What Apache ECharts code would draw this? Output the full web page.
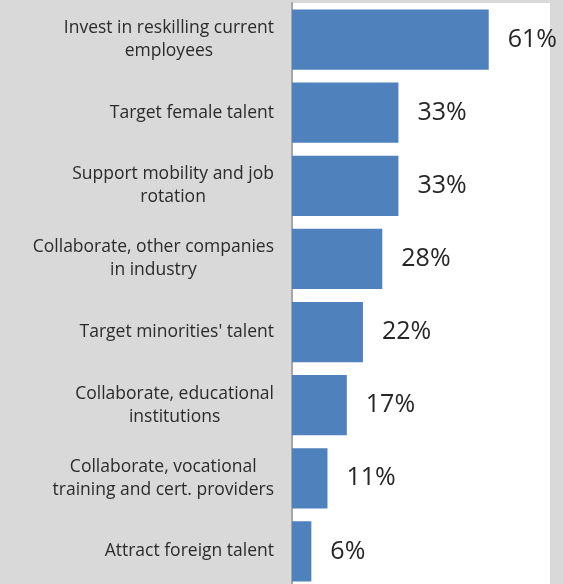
<!DOCTYPE html>
<html><head><meta charset="utf-8">
<script src="https://cdn.jsdelivr.net/npm/echarts@6/dist/echarts.min.js"></script>
<style>html,body{margin:0;padding:0;background:#d9d9d9;overflow:hidden}#c{width:563px;height:592px}</style>
</head><body><div id="c"></div>
<script>
const categories = [
  "Invest in reskilling current\nemployees",
  "Target female talent",
  "Support mobility and job\nrotation",
  "Collaborate, other companies\nin industry",
  "Target minorities' talent",
  "Collaborate, educational\ninstitutions",
  "Collaborate, vocational\ntraining and cert. providers",
  "Attract foreign talent"
];
const values = [61, 33, 33, 28, 22, 17, 11, 6];

const chart = echarts.init(document.getElementById('c'));
chart.setOption({
  backgroundColor: '#d9d9d9',
  animation: false,
  grid: {left: 292, right: 13, top: 3, bottom: 4, show: true, backgroundColor: '#ffffff', borderWidth: 0, containLabel: false},
  xAxis: {type: 'value', min: 0, max: 80, show: false},
  yAxis: {
    type: 'category', data: categories, inverse: true,
    axisTick: {show: false},
    axisLine: {show: true, lineStyle: {color: '#a6a6a6', width: 2}},
    axisLabel: {
      margin: 18, align: 'right',
      formatter: v => v.split('\n').map(s => '{c|' + s + '}').join('\n'),
      rich: {c: {align: 'center', fontFamily: 'Open Sans', fontSize: 17.5, color: '#2b2b2b', lineHeight: 23}}
    }
  },
  series: [{
    type: 'bar', data: values, barCategoryGap: '17.5%',
    itemStyle: {color: '#4f81bd'},
    label: {show: true, position: 'right', distance: 19, formatter: '{c}%', fontFamily: 'Open Sans', fontSize: 25, color: '#262626'}
  }]
});
</script></body></html>
